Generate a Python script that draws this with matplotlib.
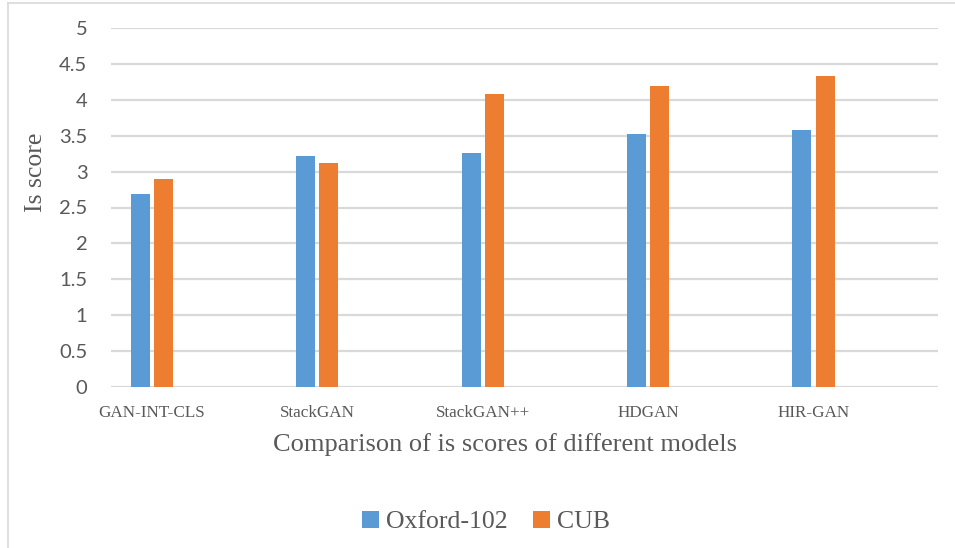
import matplotlib
matplotlib.use("Agg")
import matplotlib.pyplot as plt
from matplotlib.lines import Line2D
import numpy as np

models = ["GAN-INT-CLS", "StackGAN", "StackGAN++", "HDGAN", "HIR-GAN"]
oxford = [2.69, 3.22, 3.26, 3.52, 3.58]
cub = [2.90, 3.12, 4.08, 4.19, 4.33]
yticks = [0, 0.5, 1, 1.5, 2, 2.5, 3, 3.5, 4, 4.5, 5]
ytick_labels = ["0", "0.5", "1", "1.5", "2", "2.5", "3", "3.5", "4", "4.5", "5"]

BLUE = "#5B9BD5"
ORANGE = "#ED7D31"
TEXT = "#595959"
GRID = "#D9D9D9"
SERIF = ["Liberation Serif", "DejaVu Serif"]

W, H = 955, 548
fig = plt.figure(figsize=(W / 100, H / 100), dpi=100)

# axes placed in pixel terms to line up with the reference
left, right, top, bottom = 111, 938, 28, 387
ax = fig.add_axes([left / W, 1 - bottom / H, (right - left) / W, (bottom - top) / H])

x = np.arange(len(models))
bw = 0.115
off = 0.07
ax.bar(x - off, oxford, bw, color=BLUE, label="Oxford-102", zorder=3)
ax.bar(x + off, cub, bw, color=ORANGE, label="CUB", zorder=3)

ax.set_xlim(-0.248, 4.753)
ax.set_ylim(0, 5)
ax.set_yticks(yticks)
ax.set_yticklabels(ytick_labels, family=["Lato", "DejaVu Sans"], fontsize=14.5, color=TEXT)
ax.set_xticks(x)
ax.set_xticklabels(models, family=SERIF, fontsize=12.3, color=TEXT)
ax.tick_params(axis="y", length=0, pad=17)
ax.tick_params(axis="x", length=0, pad=13)

ax.grid(axis="y", color=GRID, lw=1.6, zorder=0)
for s in ax.spines.values():
    s.set_visible(False)

fig.text(505 / W, 1 - 451 / H, "Comparison of is scores of different models",
         family=SERIF, fontsize=19, color=TEXT, ha="center", va="baseline")
fig.text(36 / W, 1 - 172 / H, "Is score", family=SERIF, fontsize=18.5,
         color=TEXT, ha="center", va="center", rotation=90)

fig.legend(loc="center", bbox_to_anchor=(486 / W, 1 - 522 / H), ncol=2,
           frameon=False, prop={"family": SERIF, "size": 18.5},
           labelcolor=TEXT, handlelength=0.66, handleheight=0.66,
           handletextpad=0.25, columnspacing=1.0)

# partial outer frame (left and top edges visible in the reference)
fig.add_artist(Line2D([7.5 / W, 7.5 / W], [0, 1 - 3 / H], color=GRID, lw=1.2,
                      transform=fig.transFigure))
fig.add_artist(Line2D([7.5 / W, 1], [1 - 3 / H, 1 - 3 / H], color=GRID, lw=1.2,
                      transform=fig.transFigure))

fig.savefig("out.png", dpi=100)
